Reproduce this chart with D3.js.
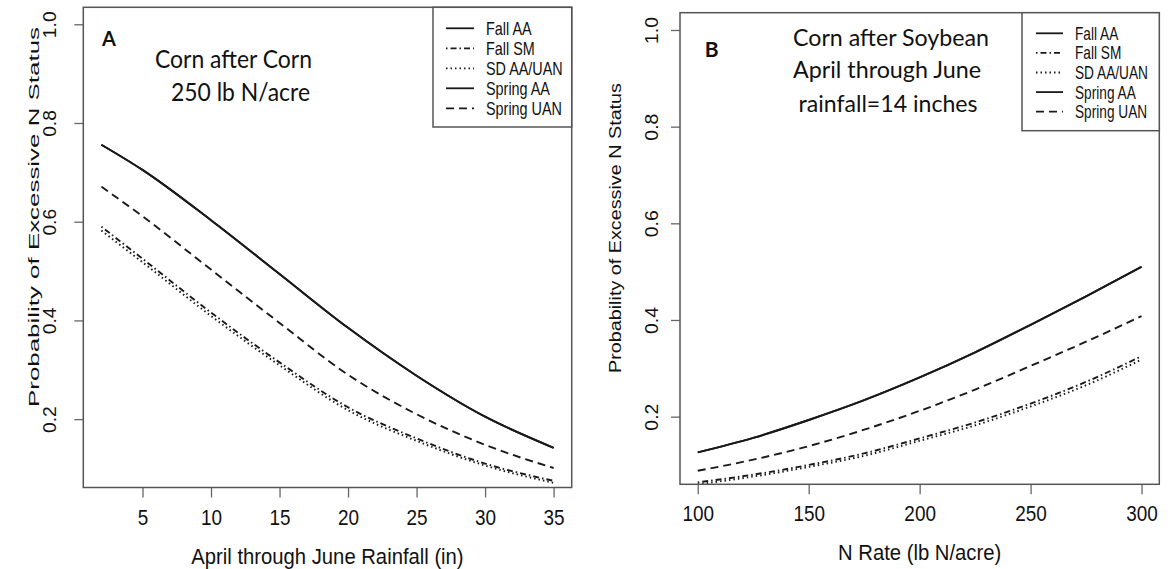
<!DOCTYPE html>
<html>
<head>
<meta charset="utf-8">
<script src="https://cdn.jsdelivr.net/npm/d3@7"></script>
<style>
body { margin: 0; background: #fff; }
svg { display: block; font-family: "Liberation Sans", Arial, sans-serif; }
</style>
</head>
<body>
<script>
// panel A: corn after corn, 250 lb N/acre
var rainfall = [2, 5, 10, 15, 20, 25, 30, 35]
var rainFallAA = [0.756, 0.705, 0.603, 0.494, 0.385, 0.288, 0.205, 0.142]
var rainFallSM = [0.590, 0.525, 0.416, 0.315, 0.224, 0.161, 0.110, 0.075]
var rainSdAAUAN = [0.582, 0.518, 0.409, 0.309, 0.218, 0.156, 0.106, 0.071]
var rainSpringAA = [0.756, 0.705, 0.603, 0.494, 0.385, 0.288, 0.205, 0.142]
var rainSpringUAN = [0.671, 0.611, 0.503, 0.395, 0.290, 0.210, 0.148, 0.101]

// panel B: corn after soybean, 14 inches rainfall
var nRate = [100, 125, 150, 175, 200, 225, 250, 275, 300]
var rateFallAA = [0.126, 0.156, 0.193, 0.234, 0.281, 0.333, 0.390, 0.449, 0.510]
var rateFallSM = [0.064, 0.080, 0.100, 0.124, 0.155, 0.188, 0.227, 0.272, 0.325]
var rateSdAAUAN = [0.060, 0.076, 0.096, 0.119, 0.150, 0.182, 0.221, 0.265, 0.318]
var rateSpringAA = [0.126, 0.156, 0.193, 0.234, 0.281, 0.333, 0.390, 0.449, 0.510]
var rateSpringUAN = [0.088, 0.111, 0.139, 0.173, 0.212, 0.256, 0.305, 0.355, 0.408]

var treatments = ["Fall AA", "Fall SM", "SD AA/UAN", "Spring AA", "Spring UAN"]
var rainTicks = [5, 10, 15, 20, 25, 30, 35]
var rateTicks = [100, 150, 200, 250, 300]
var probTicks = [0.2, 0.4, 0.6, 0.8, 1.0]

WIDTH = 1168
HEIGHT = 569
DASHES = {"Fall AA": null, "Fall SM": "1.5,3,6,3", "SD AA/UAN": "1.5,3", "Spring AA": null, "Spring UAN": "8,5"}

var svg = d3.select("body").append("svg").attr("width", WIDTH).attr("height", HEIGHT)

// squeeze or stretch text along its baseline, like the original picture
function fit(sel, factor)
{
  sel.each(function()
  {
    var w = this.getComputedTextLength()
    d3.select(this).attr("textLength", w * factor).attr("lengthAdjust", "spacingAndGlyphs")
  })
}

function panel(p)
{
  var x = d3.scaleLinear().domain(p.xdomain).range([p.left, p.right])
  var y = d3.scaleLinear().domain(p.ydomain).range([p.bottom, p.top])

  svg.append("clipPath").attr("id", "clip" + p.name)
    .append("rect").attr("x", p.left).attr("y", p.top)
    .attr("width", p.right - p.left).attr("height", p.bottom - p.top)

  var line = d3.line().x(function(d) { return x(d[0]) }).y(function(d) { return y(d[1]) })
               .curve(d3.curveMonotoneX)
  var lines = svg.append("g").attr("clip-path", "url(#clip" + p.name + ")")
  treatments.forEach(function(t, i)
  {
    var pts = p.xs.map(function(v, j) { return [v, p.series[i][j]] })
    lines.append("path").attr("d", line(pts)).attr("fill", "none")
      .attr("stroke", "#1a1a1a").attr("stroke-width", 1.9)
      .attr("stroke-dasharray", DASHES[t])
  })

  // x axis
  var gx = svg.append("g").attr("transform", "translate(0," + p.bottom + ")")
    .call(d3.axisBottom(x).tickValues(p.xticks).tickSize(10).tickSizeOuter(0))
  gx.select(".domain").remove()
  gx.selectAll("line").attr("stroke", "#666").attr("stroke-width", 1.3)
  gx.selectAll("text").attr("y", 37).attr("dy", null).attr("fill", "#111")
    .style("font-size", "21.5px").call(fit, 0.88)

  // y axis, labels turned like R does
  var gy = svg.append("g").attr("transform", "translate(" + p.left + ",0)")
    .call(d3.axisLeft(y).tickValues(probTicks).tickFormat(d3.format(".1f")).tickSize(9).tickSizeOuter(0))
  gy.select(".domain").remove()
  gy.selectAll("line").attr("stroke", "#666").attr("stroke-width", 1.3)
  gy.selectAll("text").attr("x", 0).attr("dy", null).attr("fill", "#111")
    .attr("text-anchor", "middle")
    .attr("transform", "translate(" + p.ytickoff + ",0) rotate(-90)")
    .style("font-size", p.ytickfont + "px").call(fit, p.ytickfit)

  svg.append("rect").attr("x", p.left).attr("y", p.top)
    .attr("width", p.right - p.left).attr("height", p.bottom - p.top)
    .attr("fill", "none").attr("stroke", "#555").attr("stroke-width", 1.5)

  svg.append("text").attr("x", (p.left + p.right) / 2).attr("y", p.bottom + 76)
    .attr("text-anchor", "middle").attr("fill", "#111").style("font-size", "22px")
    .text(p.xlabel).call(fit, 0.92)

  svg.append("text").attr("text-anchor", "middle").attr("fill", "#111")
    .attr("transform", "translate(" + p.ytitlex + "," + p.ytitley + ") rotate(-90)")
    .style("font-size", p.ytitlefont + "px").attr("textLength", p.ytitlelen).attr("lengthAdjust", "spacingAndGlyphs")
    .text("Probability of Excessive N Status")

  // legend
  var lg = p.legend
  svg.append("rect").attr("x", lg.x).attr("y", p.top).attr("width", p.right - lg.x)
    .attr("height", lg.bottom - p.top).attr("fill", "#fff").attr("stroke", "#555").attr("stroke-width", 1.5)
  treatments.forEach(function(t, i)
  {
    var ry = lg.y0 + i * lg.step
    svg.append("line").attr("x1", lg.x1).attr("x2", lg.x2).attr("y1", ry).attr("y2", ry)
      .attr("stroke", "#1a1a1a").attr("stroke-width", 1.8).attr("stroke-dasharray", DASHES[t])
    svg.append("text").attr("transform", "translate(" + lg.tx + "," + (ry + 6.5) + ") scale(" + lg.fit + ",1)")
      .attr("fill", "#111").style("font-size", "18px").text(t)
  })

  // panel letter and notes
  svg.append("text").attr("x", p.letter[0]).attr("y", p.letter[1])
    .style("font-family", "Lato").style("font-weight", "bold").style("font-size", p.letter[2] + "px")
    .attr("fill", "#111").text(p.name)
  p.notes.forEach(function(n)
  {
    svg.append("text").attr("x", n[1]).attr("y", n[2]).attr("fill", "#111")
      .style("font-family", "Lato").style("font-size", p.notefont + "px")
      .attr("textLength", n[3]).attr("lengthAdjust", "spacingAndGlyphs").text(n[0])
  })
}

panel({
  name: "A", xs: rainfall,
  series: [rainFallAA, rainFallSM, rainSdAAUAN, rainSpringAA, rainSpringUAN],
  left: 83.3, right: 571.7, top: 7.3, bottom: 487.5,
  xdomain: [0.68, 36.32], ydomain: [0.0615, 1.0344],
  xticks: rainTicks, xlabel: "April through June Rainfall (in)",
  ytickoff: -27.5, ytickfont: 17.5, ytickfit: 1.1,
  ytitlex: 38.5, ytitley: 217, ytitlelen: 380, ytitlefont: 15.5,
  legend: {x: 433, bottom: 127, x1: 446, x2: 474, tx: 486, y0: 28.3, step: 20, fit: 0.8},
  letter: [102, 45.5, 20],
  notefont: 25,
  notes: [["Corn after Corn", 155, 68, 157], ["250 lb N/acre", 171, 101, 139]]
})

panel({
  name: "B", xs: nRate,
  series: [rateFallAA, rateFallSM, rateSdAAUAN, rateSpringAA, rateSpringUAN],
  left: 680, right: 1159.3, top: 12.7, bottom: 484.3,
  xdomain: [92, 308], ydomain: [0.060, 1.0358],
  xticks: rateTicks, xlabel: "N Rate (lb N/acre)",
  ytickoff: -22, ytickfont: 18.5, ytickfit: 1.05,
  ytitlex: 621, ytitley: 228, ytitlelen: 290, ytitlefont: 17,
  legend: {x: 1022, bottom: 130.7, x1: 1036, x2: 1063, tx: 1075, y0: 33.3, step: 19.6, fit: 0.76},
  letter: [704.7, 56.7, 21],
  notefont: 23,
  notes: [["Corn after Soybean", 793, 46, 196], ["April through June", 793, 78.3, 188], ["rainfall=14 inches", 798.5, 111.7, 179]]
})
</script>
</body>
</html>
